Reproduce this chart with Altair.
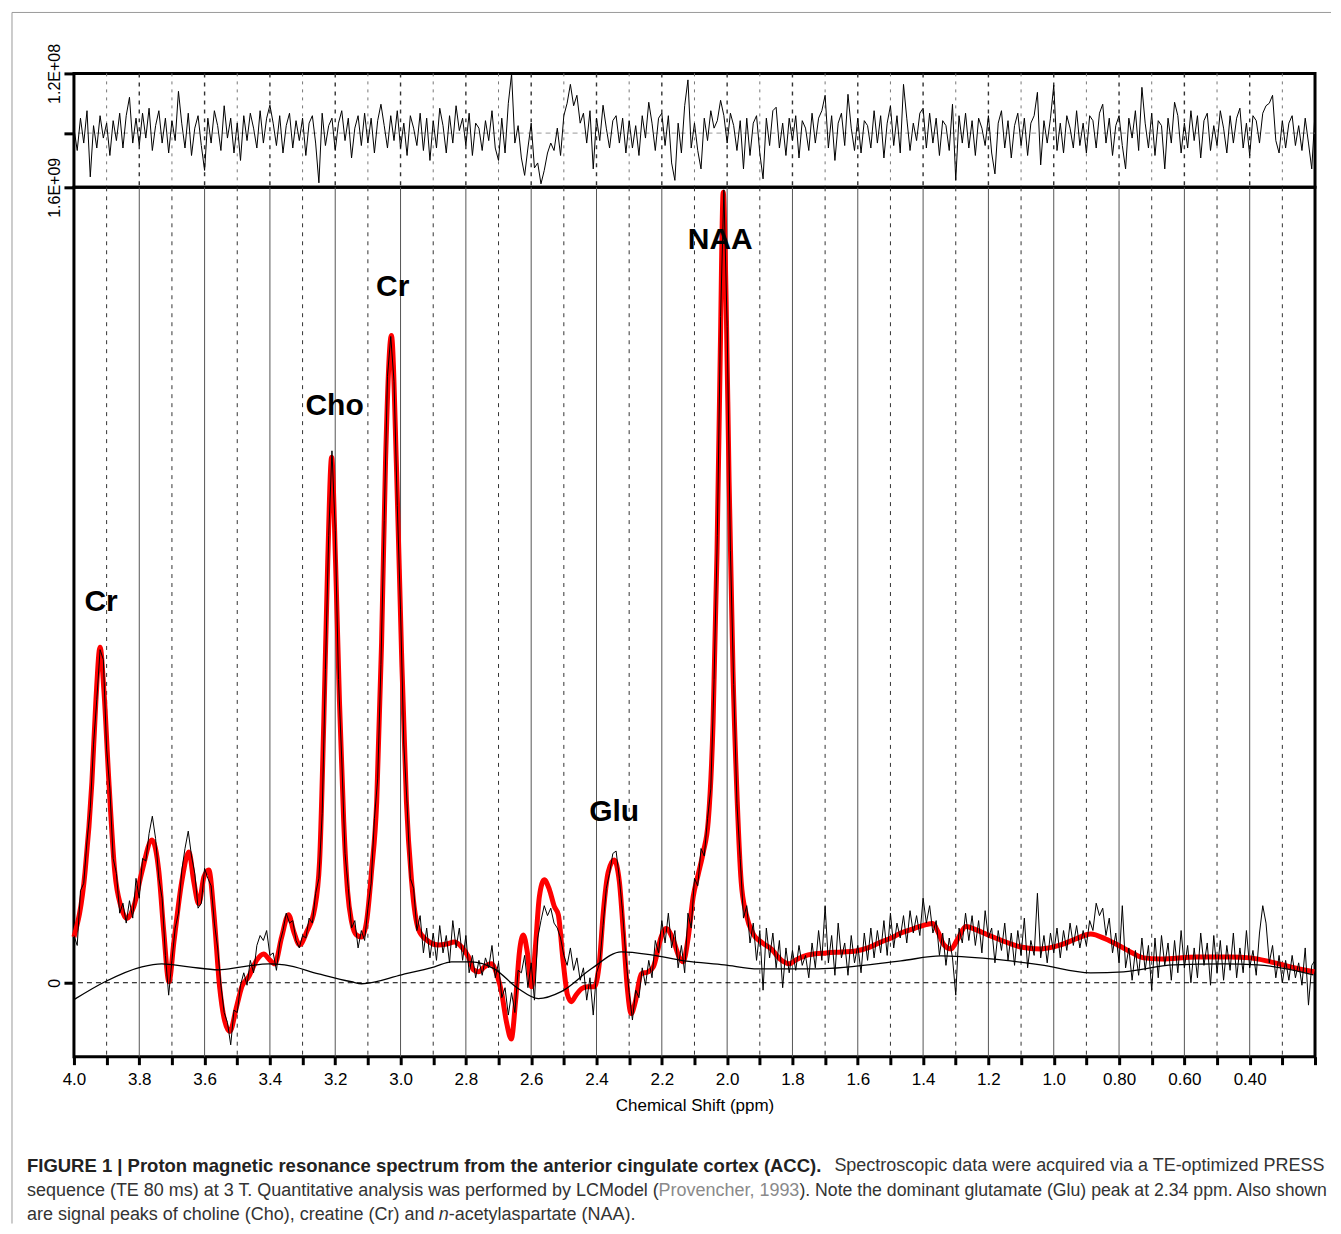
import numpy as np
import pandas as pd
import altair as alt

UNIT = 1e8  # all value lists below are in units of 1e8

# measured spectrum (thin black), one value per 0.01 ppm from 4.00 down to 0.20
data_vals = [
    0.95, 0.75, 1.85, 2.00, 2.85, 3.50, 4.80, 5.70, 6.70, 6.50,
    4.70, 3.90, 2.50, 2.20, 1.40, 1.60, 1.20, 1.65, 1.30, 2.10,
    1.70, 2.50, 2.45, 3.00, 3.35, 2.90, 2.10, 1.70, 0.55, -0.25,
    0.45, 1.10, 1.40, 2.25, 2.70, 3.05, 2.55, 2.20, 1.50, 1.60,
    2.30, 2.10, 1.95, 1.20, 0.70, -0.05, -0.60, -0.80, -1.25, -0.55,
    -0.60, -0.05, 0.20, -0.05, 0.45, 0.20, 0.75, 0.95, 0.85, 1.05,
    0.55, 0.60, 0.25, 0.80, 1.05, 1.40, 1.20, 1.25, 0.85, 0.70,
    0.95, 0.90, 1.30, 1.20, 1.80, 2.10, 3.40, 6.30, 9.00, 10.70,
    9.10, 6.10, 4.50, 2.60, 1.90, 1.10, 1.25, 0.70, 1.05, 0.85,
    1.50, 2.00, 3.30, 4.10, 6.40, 9.30, 12.20, 13.00, 12.10, 9.60,
    7.50, 4.80, 3.60, 2.10, 1.90, 1.05, 1.35, 0.60, 1.10, 0.50,
    1.00, 0.45, 1.15, 0.60, 0.95, 0.40, 1.25, 0.70, 1.10, 0.45,
    0.95, 0.20, 0.55, 0.10, 0.45, 0.15, 0.50, 0.30, 0.75, 0.10,
    0.40, -0.30, -0.10, -0.65, -0.20, -0.60, 0.25, 0.20, 0.55, -0.10,
    0.40, -0.35, 0.90, 1.25, 1.55, 1.35, 1.50, 1.20, 1.10, 0.90,
    0.55, 0.35, 0.70, 0.25, 0.50, 0.05, 0.30, -0.35, 0.10, -0.65,
    0.20, 0.40, 1.15, 1.90, 2.20, 2.60, 2.65, 2.10, 1.40, 0.50,
    -0.20, -0.75, -0.15, -0.30, 0.30, -0.05, 0.45, 0.10, 0.85, 0.60,
    1.25, 0.80, 1.40, 0.70, 1.05, 0.30, 0.75, 0.20, 1.40, 1.10,
    2.10, 1.95, 2.70, 2.55, 3.30, 3.90, 6.10, 9.00, 13.40, 15.95,
    13.20, 8.70, 6.00, 3.60, 2.50, 1.30, 1.55, 0.80, 1.20, 0.45,
    1.05, -0.15, 1.10, 0.50, 1.00, 0.30, 0.85, -0.10, 0.70, 0.20,
    0.65, 0.25, 0.75, 0.35, 0.55, 0.10, 0.80, 0.30, 1.05, 0.45,
    1.55, 0.40, 0.95, 0.15, 1.20, 0.50, 0.80, 0.15, 0.95, 0.40,
    0.75, 0.20, 1.00, 0.45, 1.10, 0.50, 1.05, 0.60, 1.25, 0.55,
    1.40, 0.70, 1.20, 0.90, 1.35, 0.80, 1.45, 1.00, 1.35, 0.95,
    1.70, 1.20, 1.55, 1.00, 1.25, 0.55, 1.00, 0.35, 0.90, 0.50,
    -0.25, 1.10, 0.80, 1.40, 0.85, 1.35, 0.75, 1.25, 0.60, 1.45,
    0.90, 1.10, 0.40, 1.05, 0.65, 1.20, 0.45, 1.00, 0.35, 1.05,
    0.55, 1.30, 0.30, 0.85, 0.55, 1.80, 0.50, 0.95, 0.40, 1.00,
    0.60, 1.10, 0.50, 1.05, 0.65, 1.20, 0.75, 1.15, 0.70, 1.05,
    0.75, 1.25, 1.05, 1.60, 1.35, 1.50, 0.95, 1.30, 0.60, 1.00,
    0.40, 1.55, 0.30, 0.70, 0.05, 0.65, 0.15, 0.90, 0.25, 0.75,
    -0.15, 0.90, 0.10, 0.95, 0.35, 0.80, 0.05, 0.85, 0.20, 1.05,
    0.30, 0.75, 0.00, 0.70, 0.10, 1.00, 0.35, 0.80, -0.05, 0.95,
    0.20, 0.85, 0.05, 0.75, 0.25, 1.00, 0.10, 0.70, 0.20, 1.05,
    0.30, 0.65, 0.15, 1.00, 1.55, 1.20, 0.40, 0.75, 0.10, 0.55,
    0.00, 0.45, 0.05, 0.55, 0.10, 0.40, -0.05, 0.70, -0.45, 0.35,
    0.45,
]

# residual (top panel), same 0.01 ppm grid
resid_vals = [
    0.10, -0.35, 0.30, -0.20, 0.45, -0.88, 0.15, -0.30, 0.35, -0.10,
    0.20, -0.45, 0.25, -0.15, 0.40, -0.30, 0.35, 0.72, -0.20, 0.30,
    -0.25, 0.40, -0.10, 0.50, -0.35, 0.15, 0.45, -0.20, 0.30, -0.40,
    0.25, -0.15, 0.84, 0.20, -0.30, 0.40, -0.45, 0.10, 0.35, -0.25,
    -0.75, 0.30, -0.20, 0.45, 0.15, -0.35, 0.55, -0.10, 0.30, -0.40,
    0.20, -0.55, 0.35, -0.15, 0.40, 0.10, -0.30, 0.45, -0.20, 0.30,
    0.56, 0.20, -0.25, 0.35, -0.40, 0.15, 0.40, -0.30, 0.25, -0.15,
    0.30, -0.45, 0.20, 0.35, -0.20, -1.00, 0.40, -0.25, 0.15, 0.30,
    -0.35, 0.20, 0.45, -0.15, 0.30, -0.50, 0.10, 0.35, -0.25, 0.40,
    -0.20, 0.30, -0.40, 0.25, 0.58, 0.15, -0.30, 0.35, -0.15, 0.45,
    -0.30, 0.20, -0.45, 0.35, 0.10, -0.25, 0.40, -0.35, 0.30, -0.55,
    0.25, -0.30, 0.50, 0.15, -0.40, 0.35, -0.20, 0.55, 0.05, 0.30,
    -0.25, 0.40, -0.45, 0.20, 0.10, -0.35, 0.25, -0.15, 0.45, -0.30,
    -0.55, 0.30, -0.40, 0.60, 1.19, -0.20, 0.15, -0.50, -0.85, -0.30,
    0.20, -0.70, -0.60, -1.02, -0.75, -0.40, -0.20, -0.35, 0.10, -0.45,
    0.35, 0.60, 0.98, 0.55, 0.76, 0.20, 0.40, -0.20, 0.45, -0.72,
    0.30, -0.15, 0.56, 0.10, -0.30, 0.25, 0.35, -0.20, 0.30, -0.40,
    0.25, -0.30, 0.15, -0.45, 0.35, -0.10, 0.62, 0.20, -0.35, 0.30,
    0.40, -0.25, 0.35, -0.60, -0.95, 0.20, -0.40, 0.55, 1.07, -0.30,
    0.20, -0.35, -0.72, 0.30, -0.15, 0.45, 0.10, 0.25, 0.66, 0.35,
    -0.20, 0.40, 0.15, -0.35, 0.25, -0.72, 0.30, -0.45, 0.20, 0.35,
    -0.40, -0.92, 0.30, -0.25, 0.45, 0.52, -0.30, 0.20, -0.45, 0.30,
    -0.15, 0.35, -0.50, 0.25, 0.10, -0.35, 0.40, -0.20, 0.30, 0.45,
    0.76, -0.30, 0.35, -0.55, 0.20, 0.40, -0.25, 0.78, 0.10, -0.35,
    0.30, -0.40, 0.25, 0.15, -0.30, 0.45, -0.20, 0.35, -0.50, 0.20,
    0.55, -0.25, 0.35, -0.40, 0.98, 0.30, -0.35, 0.20, -0.15, 0.40,
    0.50, -0.30, 0.40, -0.20, 0.30, -0.45, 0.25, 0.15, -0.35, 0.58,
    -0.95, 0.35, -0.20, 0.40, -0.30, 0.25, -0.45, 0.30, 0.10, -0.25,
    0.35, -0.40, -0.82, 0.20, 0.45, -0.30, 0.25, -0.50, 0.15, 0.40,
    -0.25, 0.30, -0.45, 0.20, 0.35, 0.82, -0.64, 0.25, -0.20, 0.30,
    0.96, -0.35, 0.20, -0.40, 0.35, 0.10, -0.30, 0.45, -0.25, 0.20,
    -0.40, 0.35, 0.25, -0.30, 0.40, 0.58, -0.20, 0.30, -0.45, 0.15,
    0.35, -0.25, -0.72, 0.30, -0.10, 0.45, -0.35, 0.92, 0.20, -0.30,
    0.40, -0.45, 0.25, 0.15, -0.72, 0.30, -0.20, 0.62, 0.35, -0.40,
    0.20, -0.30, 0.45, -0.15, 0.35, -0.50, 0.25, 0.40, -0.35, 0.15,
    -0.25, 0.45, 0.10, -0.40, 0.35, -0.20, 0.30, 0.50, -0.30, 0.20,
    -0.45, 0.35, 0.25, -0.20, 0.40, 0.55, 0.60, 0.76, -0.15, -0.40,
    0.25, -0.30, 0.20, 0.35, -0.25, 0.15, -0.35, 0.30, -0.20, -0.72,
    0.40,
]

# LCModel fit (red)
fit_ppm = [4.000, 3.966, 3.945, 3.933, 3.920, 3.908, 3.893, 3.875, 3.856, 3.838,
           3.817, 3.792, 3.761, 3.740, 3.725, 3.709, 3.694, 3.670, 3.648, 3.633,
           3.618, 3.602, 3.587, 3.572, 3.554, 3.538, 3.523, 3.502, 3.486, 3.465,
           3.440, 3.419, 3.401, 3.385, 3.364, 3.343, 3.327, 3.309, 3.287, 3.263,
           3.248, 3.235, 3.223, 3.211, 3.199, 3.187, 3.174, 3.162, 3.150, 3.135,
           3.119, 3.104, 3.089, 3.073, 3.058, 3.046, 3.028, 3.012, 2.997, 2.982,
           2.966, 2.945, 2.920, 2.884, 2.859, 2.835, 2.813, 2.792, 2.777, 2.761,
           2.743, 2.722, 2.703, 2.691, 2.676, 2.661, 2.648, 2.636, 2.624, 2.612,
           2.599, 2.587, 2.575, 2.560, 2.544, 2.529, 2.517, 2.502, 2.489, 2.477,
           2.462, 2.446, 2.428, 2.407, 2.391, 2.379, 2.364, 2.346, 2.330, 2.318,
           2.306, 2.294, 2.281, 2.263, 2.242, 2.226, 2.202, 2.187, 2.165, 2.147,
           2.135, 2.119, 2.104, 2.089, 2.073, 2.058, 2.043, 2.031, 2.021, 2.012,
           2.003, 1.994, 1.982, 1.969, 1.957, 1.942, 1.920, 1.896, 1.865, 1.835,
           1.810, 1.789, 1.752, 1.697, 1.651, 1.606, 1.569, 1.529, 1.498, 1.468,
           1.428, 1.391, 1.370, 1.355, 1.336, 1.315, 1.294, 1.269, 1.239, 1.193,
           1.147, 1.101, 1.040, 0.979, 0.933, 0.887, 0.841, 0.804, 0.765, 0.725,
           0.673, 0.560, 0.459, 0.398, 0.336, 0.275, 0.202]
fit_vals = [0.92, 2.23, 4.04, 5.65, 6.75, 5.85, 4.04, 2.23, 1.53, 1.29,
            1.53, 2.23, 2.87, 2.23, 1.03, 0.02, 0.82, 2.03, 2.63, 2.03,
            1.59, 2.13, 2.27, 1.43, -0.08, -0.78, -0.98, -0.48, -0.08, 0.12,
            0.46, 0.58, 0.46, 0.38, 0.92, 1.37, 1.03, 0.76, 1.03, 1.49,
            2.43, 5.25, 8.46, 10.57, 8.46, 5.65, 3.24, 1.83, 1.23, 0.96,
            0.92, 1.23, 2.23, 3.64, 6.85, 10.47, 13.02, 10.27, 6.65, 3.64,
            2.03, 1.07, 0.86, 0.76, 0.78, 0.82, 0.72, 0.52, 0.26, 0.22,
            0.32, 0.38, 0.12, -0.18, -0.78, -1.13, -0.38, 0.62, 0.96, 0.62,
            -0.08, 0.72, 1.73, 2.07, 1.87, 1.53, 1.37, 0.42, -0.24, -0.38,
            -0.24, -0.12, -0.08, -0.08, 0.42, 1.43, 2.23, 2.47, 2.03, 1.03,
            -0.08, -0.62, -0.38, 0.18, 0.22, 0.32, 0.92, 1.09, 0.86, 0.52,
            0.42, 0.92, 1.73, 2.17, 2.63, 3.24, 5.25, 8.66, 12.68, 15.90,
            13.69, 10.07, 6.25, 3.64, 2.03, 1.39, 0.98, 0.82, 0.68, 0.46,
            0.38, 0.46, 0.56, 0.60, 0.62, 0.64, 0.70, 0.82, 0.90, 1.00,
            1.09, 1.17, 1.19, 1.03, 0.76, 0.68, 0.88, 1.13, 1.07, 0.94,
            0.82, 0.72, 0.68, 0.76, 0.88, 0.98, 0.88, 0.76, 0.62, 0.50,
            0.48, 0.52, 0.52, 0.50, 0.42, 0.32, 0.22]

# baseline (thin smooth black)
base_ppm = [4.000, 3.905, 3.792, 3.731, 3.648, 3.557, 3.486, 3.404, 3.355, 3.251,
            3.150, 3.119, 2.997, 2.896, 2.844, 2.783, 2.713, 2.639, 2.578, 2.508,
            2.416, 2.324, 2.232, 2.131, 2.009, 1.905, 1.722, 1.468, 1.346, 1.193,
            1.040, 0.887, 0.786, 0.633, 0.480, 0.376, 0.205]
base_vals = [-0.34, 0.02, 0.32, 0.38, 0.32, 0.26, 0.32, 0.38, 0.36, 0.18,
             0.02, -0.02, 0.16, 0.32, 0.42, 0.42, 0.28, -0.12, -0.32, -0.18,
             0.28, 0.62, 0.56, 0.44, 0.36, 0.28, 0.28, 0.44, 0.54, 0.48,
             0.36, 0.20, 0.22, 0.36, 0.38, 0.36, 0.16]

peak_names = ["Cr", "Cho", "Cr", "Glu", "NAA"]
peak_ppm = [3.917, 3.202, 3.024, 2.346, 2.021]
peak_vals = [7.66, 11.60, 13.99, 3.44, 14.95]

x_tick_values = [4.0, 3.9, 3.8, 3.7, 3.6, 3.5, 3.4, 3.3, 3.2, 3.1, 3.0, 2.9, 2.8, 2.7,
                 2.6, 2.5, 2.4, 2.3, 2.2, 2.1, 2.0, 1.9, 1.8, 1.7, 1.6, 1.5, 1.4, 1.3,
                 1.2, 1.1, 1.0, 0.9, 0.8, 0.7, 0.6, 0.5, 0.4, 0.3, 0.2]
major_grid = [3.8, 3.6, 3.4, 3.2, 3.0, 2.8, 2.6, 2.4, 2.2, 2.0, 1.8, 1.6, 1.4, 1.2,
              1.0, 0.8, 0.6, 0.4]
minor_grid = [3.9, 3.7, 3.5, 3.3, 3.1, 2.9, 2.7, 2.5, 2.3, 2.1, 1.9, 1.7, 1.5, 1.3,
              1.1, 0.9, 0.7, 0.5, 0.3]

caption = [
    # text, x, y, size, weight, style, color
    ("FIGURE 1 | Proton magnetic resonance spectrum from the anterior cingulate cortex (ACC).",
     -47, 979, 18.5, "bold", "normal", "#222222"),
    ("Spectroscopic data were acquired via a TE-optimized PRESS", 761, 979, 18, "normal", "normal", "#333333"),
    ("sequence (TE 80 ms) at 3 T. Quantitative analysis was performed by LCModel (",
     -47, 1004, 18, "normal", "normal", "#333333"),
    ("Provencher, 1993", 585, 1004, 18, "normal", "normal", "#8a8a8a"),
    ("). Note the dominant glutamate (Glu) peak at 2.34 ppm. Also shown", 726, 1004, 17.7, "normal", "normal", "#333333"),
    ("are signal peaks of choline (Cho), creatine (Cr) and", -47, 1028, 18, "normal", "normal", "#333333"),
    ("n", 365, 1028, 18, "normal", "italic", "#333333"),
    ("-acetylaspartate (NAA).", 375, 1028, 18, "normal", "normal", "#333333"),
]

# ---------------------------------------------------------------------------
ppm_grid = np.round(4.00 - 0.01 * np.arange(len(data_vals)), 2)
assert len(data_vals) == len(resid_vals) == 381
assert len(fit_ppm) == len(fit_vals)
assert len(base_ppm) == len(base_vals)

df_data = pd.DataFrame({"ppm": ppm_grid, "y": np.array(data_vals) * UNIT})
df_resid = pd.DataFrame({"ppm": ppm_grid, "y": np.array(resid_vals) * UNIT})
df_fit = pd.DataFrame({"ppm": fit_ppm, "y": np.array(fit_vals) * UNIT})
df_base = pd.DataFrame({"ppm": base_ppm, "y": np.array(base_vals) * UNIT})
df_peaks = pd.DataFrame({"ppm": peak_ppm, "y": np.array(peak_vals) * UNIT, "name": peak_names})
df_major = pd.DataFrame({"ppm": major_grid})
df_minor = pd.DataFrame({"ppm": minor_grid})
df_zero = pd.DataFrame({"y": [0.0]})
one = pd.DataFrame({"k": [0]})

FONT = "Liberation Sans"
W, H_TOP, H_MAIN = 1242, 114, 870

x_scale = alt.Scale(domain=[0.2, 4.0], reverse=True, nice=False, zero=False)
y_main_scale = alt.Scale(domain=[-1.487e8, 1.6e9], nice=False, zero=False)
y_top_scale = alt.Scale(domain=[-1.09e8, 1.2e8], nice=False, zero=False)

x_axis = alt.Axis(
    values=x_tick_values,
    labelExpr="(datum.value < 0.25 || abs(round(datum.value * 10)) % 2 == 1) ? '' : "
              "(datum.value >= 0.95 ? format(datum.value, '.1f') : format(datum.value, '.2f'))",
    title="Chemical Shift (ppm)", grid=False, domain=False,
    tickSize=8, tickWidth=3, tickColor="black",
    labelFont=FONT, labelFontSize=17, labelColor="black", labelPadding=7,
    labelOverlap=False, labelFlush=False,
    titleFont=FONT, titleFontSize=17, titleFontWeight="normal", titleColor="black",
    titlePadding=10,
)
y_axis_main = alt.Axis(
    values=[0, 1.6e9], labelExpr="datum.value == 0 ? '0' : '1.6E+09'",
    title=None, grid=False, domain=False, tickSize=10, tickWidth=3, tickColor="black",
    labelAngle=-90, labelAlign="center", labelBaseline="bottom", labelPadding=1,
    labelFont=FONT, labelFontSize=16, labelColor="black",
)
y_axis_top = alt.Axis(
    values=[0, 1.2e8], labelExpr="datum.value == 0 ? '' : '1.2E+08'",
    title=None, grid=False, domain=False, tickSize=10, tickWidth=3, tickColor="black",
    labelAngle=-90, labelAlign="center", labelBaseline="bottom", labelPadding=1,
    labelFont=FONT, labelFontSize=16, labelColor="black",
)

X_main = alt.X("ppm:Q", scale=x_scale, axis=x_axis)
Y_main = alt.Y("y:Q", scale=y_main_scale, axis=y_axis_main)
X_top = alt.X("ppm:Q", scale=x_scale, axis=None)
Y_top = alt.Y("y:Q", scale=y_top_scale, axis=y_axis_top)

# ---------------- top (residual) panel ----------------
top_major = alt.Chart(df_major).mark_rule(color="#333333", strokeWidth=1.4, strokeDash=[4, 5]).encode(x=X_top)
top_minor = alt.Chart(df_minor).mark_rule(color="#777777", strokeWidth=1, strokeDash=[3, 5]).encode(x=X_top)
top_zero = alt.Chart(df_zero).mark_rule(color="#999999", strokeWidth=1, strokeDash=[5, 4]).encode(y=Y_top)
top_line = alt.Chart(df_resid).mark_line(color="black", strokeWidth=1).encode(x=X_top, y=Y_top)
top = alt.layer(top_major, top_minor, top_zero, top_line).properties(width=W, height=H_TOP)

# ---------------- main panel ----------------
g_major = alt.Chart(df_major).mark_rule(color="#555555", strokeWidth=1).encode(x=X_main)
g_minor = alt.Chart(df_minor).mark_rule(color="#333333", strokeWidth=1, strokeDash=[4, 5]).encode(x=X_main)
zero = alt.Chart(df_zero).mark_rule(color="black", strokeWidth=1, strokeDash=[5, 4]).encode(y=Y_main)
fit = alt.Chart(df_fit).mark_line(color="#ff0000", strokeWidth=5, interpolate="monotone").encode(x=X_main, y=Y_main)
data = alt.Chart(df_data).mark_line(color="black", strokeWidth=1).encode(x=X_main, y=Y_main)
base = alt.Chart(df_base).mark_line(color="black", strokeWidth=1.3, interpolate="monotone").encode(x=X_main, y=Y_main)
peaks = alt.Chart(df_peaks).mark_text(font=FONT, fontSize=30, fontWeight="bold", color="black",
                                      align="center", baseline="middle").encode(x=X_main, y=Y_main, text="name:N")

border_left = alt.Chart(one).mark_rule(color="#9a9a9a", strokeWidth=1).encode(
    x=alt.value(-62), y=alt.value(-175), y2=alt.value(1037))
border_top = alt.Chart(one).mark_rule(color="#9a9a9a", strokeWidth=1).encode(
    y=alt.value(-175), x=alt.value(-62), x2=alt.value(1258))

cap_layers = []
for text, cx, cy, size, weight, style, color in caption:
    cap_layers.append(
        alt.Chart(pd.DataFrame({"t": [text]})).mark_text(
            font=FONT, fontSize=size, fontWeight=weight, fontStyle=style, color=color,
            align="left", baseline="middle",
        ).encode(x=alt.value(cx), y=alt.value(cy), text="t:N")
    )

main = alt.layer(g_major, g_minor, zero, fit, data, base, peaks,
                 border_left, border_top, *cap_layers).properties(width=W, height=H_MAIN)

chart = alt.vconcat(top, main, spacing=0, bounds="flush").properties(
    padding={"left": 2, "top": 2, "right": 0, "bottom": 0}
).configure_view(stroke="black", strokeWidth=3)

chart.save("out.html", embed_options={"renderer": "svg", "actions": False})
